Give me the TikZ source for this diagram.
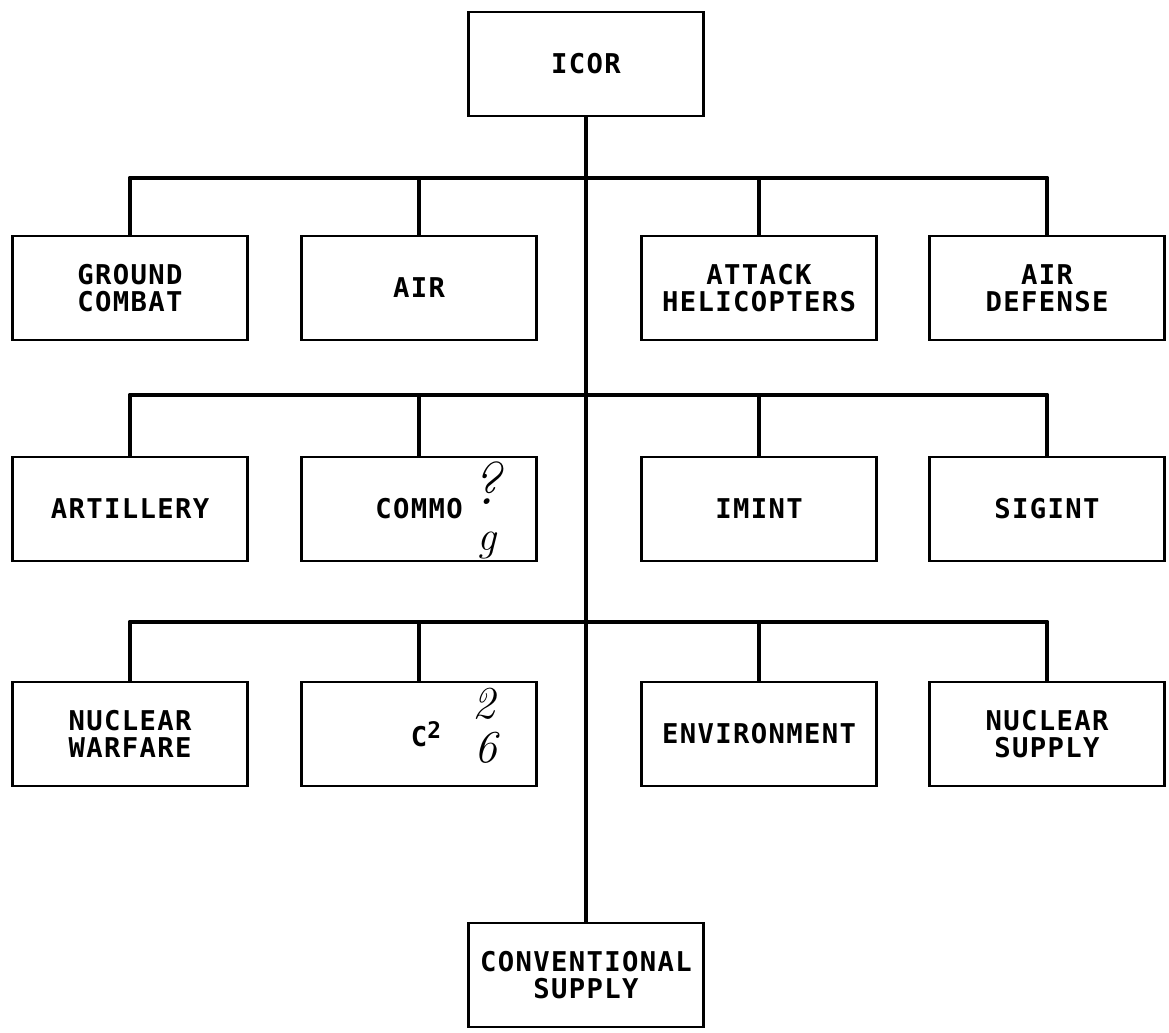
\documentclass[tikz,border=0pt]{standalone}
\usepackage{fontspec}
\newfontfamily\plotfont[LetterSpace=5]{DejaVu Sans Mono}
\usetikzlibrary{positioning}

\begin{document}
\begin{tikzpicture}[
    x=0.02cm, y=-0.02cm,
    unit/.style={draw, line width=1.3pt, minimum width=4.7cm, minimum height=2.08cm,
        inner sep=0pt, align=center,
        font=\plotfont\bfseries\fontsize{15.5pt}{15.5pt}\selectfont},
    link/.style={line width=2.8pt, line join=round},
    hand/.style={inner sep=0pt, font=\fontsize{26pt}{26pt}\selectfont\itshape}
]
\useasboundingbox (0,0) rectangle (1169,1032);

% ---- top and bottom ----
\node[unit] (icor) at (586,64) {ICOR};
\node[unit] (conv) at (586,975) {CONVENTIONAL\\SUPPLY};

% ---- row 1 ----
\node[unit] (gc)  at (130,288)  {GROUND\\COMBAT};
\node[unit] (air) at (419,288)  {AIR};
\node[unit] (atk) at (759,288)  {ATTACK\\HELICOPTERS};
\node[unit] (ad)  at (1047,288) {AIR\\DEFENSE};

% ---- row 2 ----
\node[unit] (art)   at (130,509)  {ARTILLERY};
\node[unit] (commo) at (419,509)  {COMMO};
\node[unit] (imint) at (759,509)  {IMINT};
\node[unit] (sig)   at (1047,509) {SIGINT};

% ---- row 3 ----
\node[unit] (nw)  at (130,734)  {NUCLEAR\\WARFARE};
\node[unit] (c2)  at (419,734)  {\hspace*{8pt}C\raisebox{0.55ex}{\fontsize{13pt}{13pt}\selectfont 2}};
\node[unit] (env) at (759,734)  {ENVIRONMENT};
\node[unit] (ns)  at (1047,734) {NUCLEAR\\SUPPLY};

% handwritten marks
\node[hand, font=\fontsize{34pt}{34pt}\selectfont\itshape] (qm) at (486,483) {?};
\node[hand, font=\fontsize{24pt}{24pt}\selectfont\itshape] (gm) at (487,545) {g};
\node[hand] (two) at (484,704) {2};
\node[hand] (six) at (486,748) {6};

% ---- buses ----
\coordinate (bus1) at (586,178);
\coordinate (bus2) at (586,395);
\coordinate (bus3) at (586,622);

\draw[link] (icor.south) -- (conv.north);

\draw[link] (gc.north) |- (bus1) -| (ad.north);
\draw[link] (air.north) -- (air.north |- bus1);
\draw[link] (atk.north) -- (atk.north |- bus1);

\draw[link] (art.north) |- (bus2) -| (sig.north);
\draw[link] (commo.north) -- (commo.north |- bus2);
\draw[link] (imint.north) -- (imint.north |- bus2);

\draw[link] (nw.north) |- (bus3) -| (ns.north);
\draw[link] (c2.north) -- (c2.north |- bus3);
\draw[link] (env.north) -- (env.north |- bus3);

\end{tikzpicture}
\end{document}
